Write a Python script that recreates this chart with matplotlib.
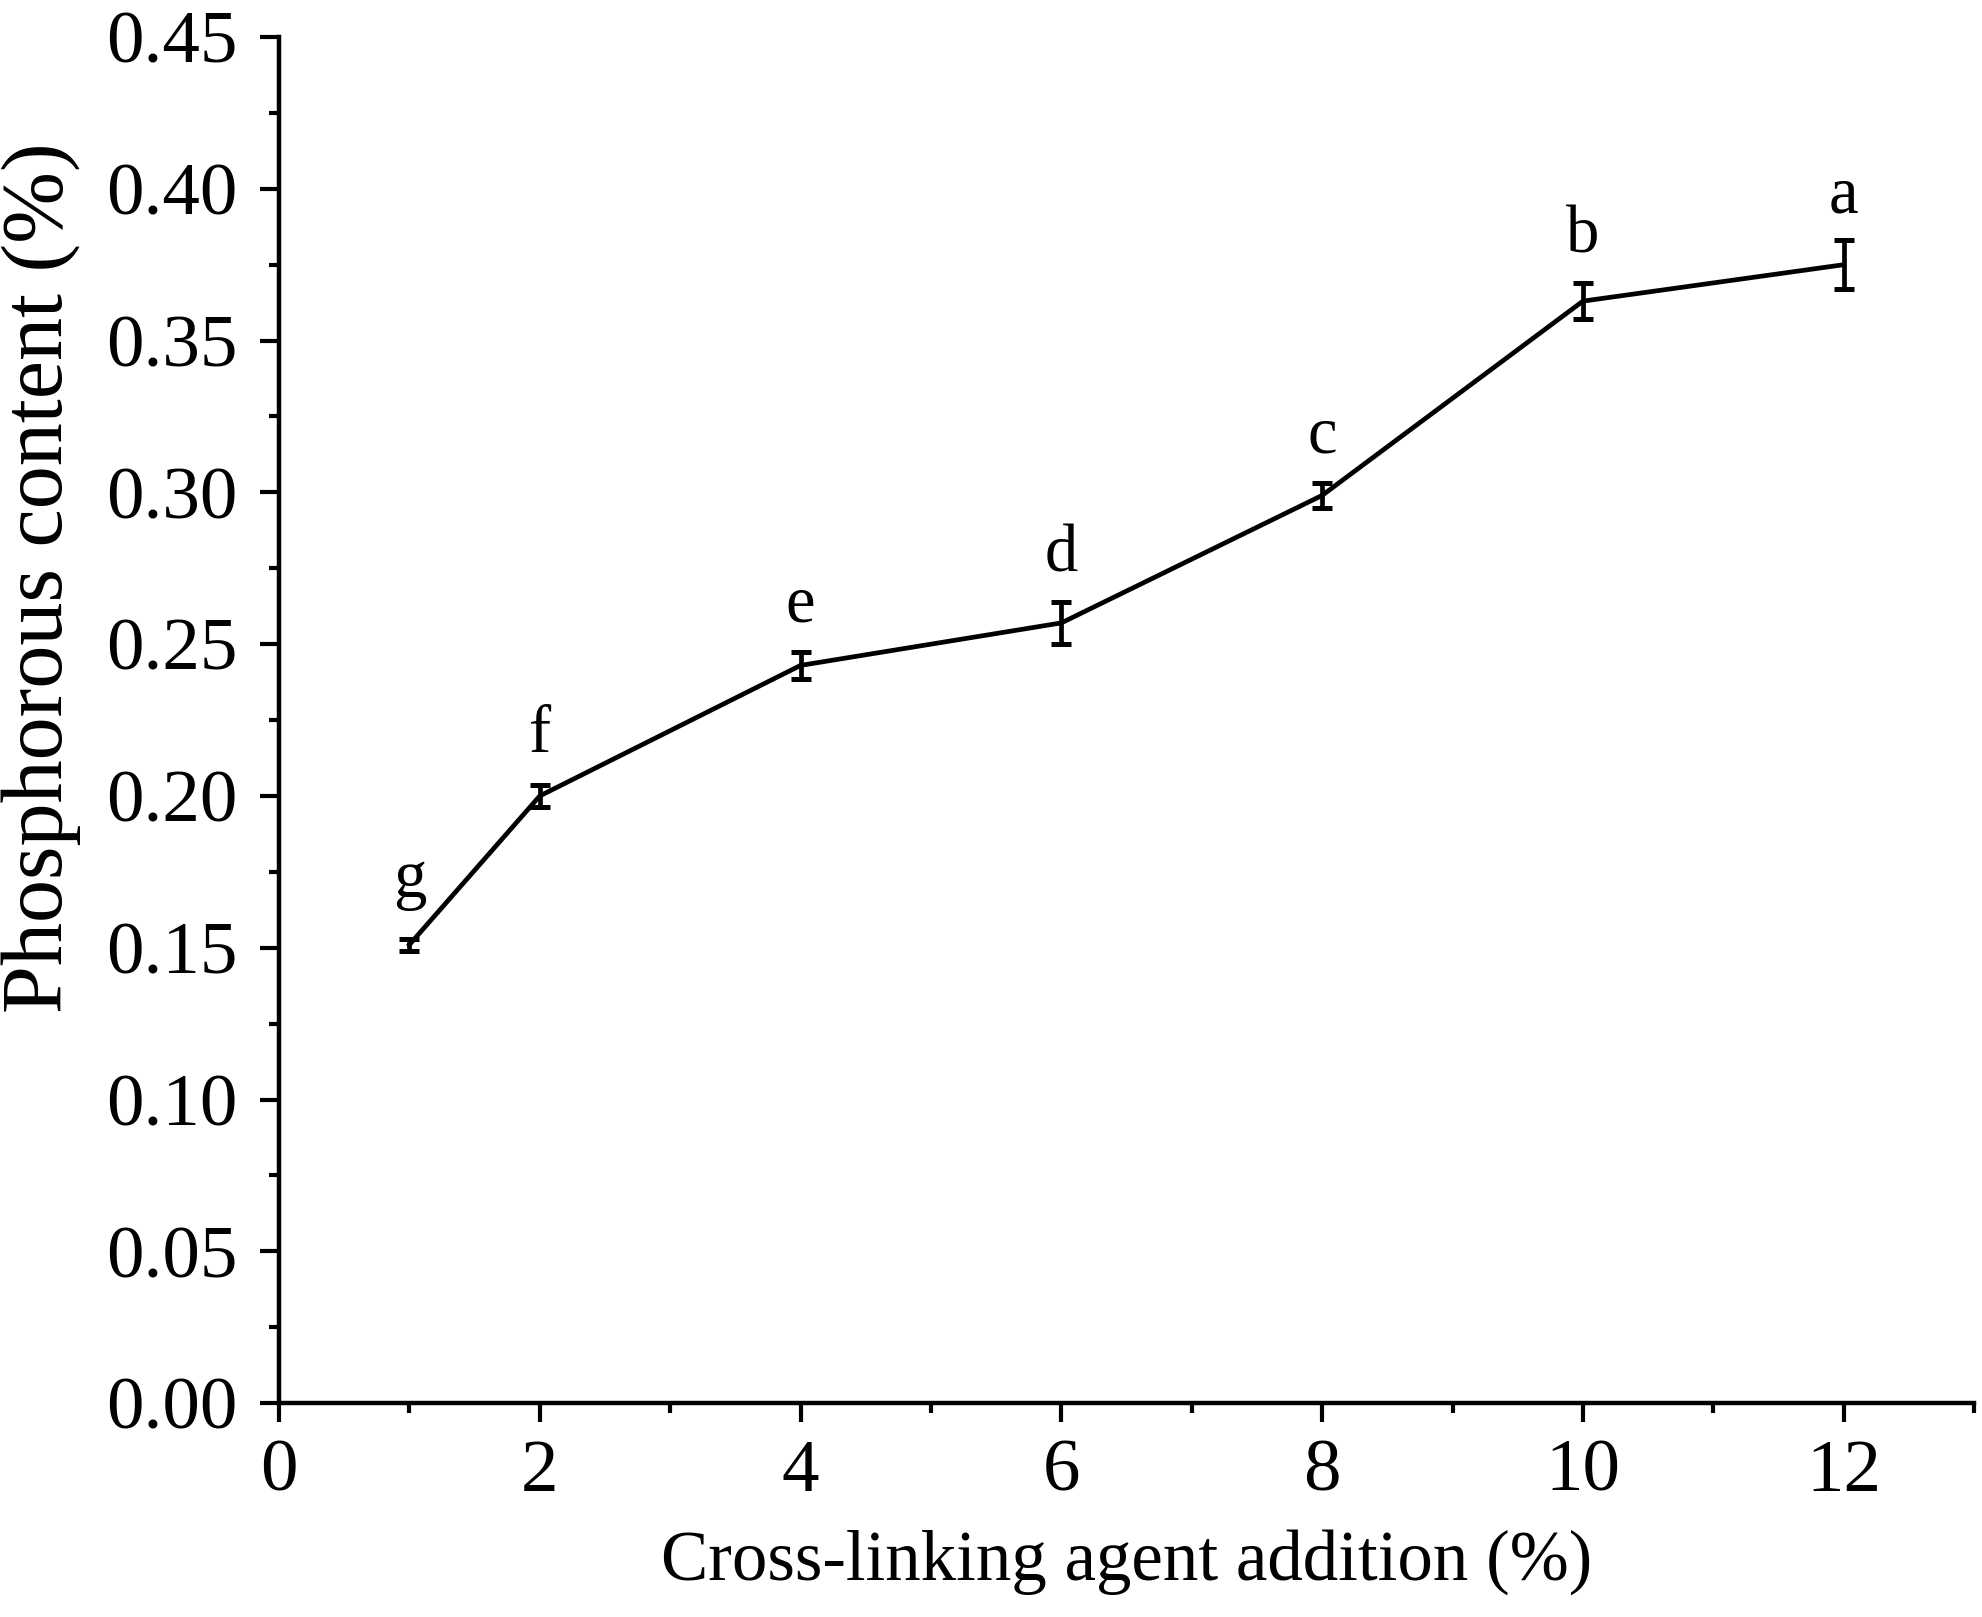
import matplotlib
matplotlib.use("Agg")
import matplotlib.pyplot as plt
from matplotlib.ticker import MultipleLocator

x_vals = [1, 2, 4, 6, 8, 10, 12]
y_vals = [0.151, 0.200, 0.243, 0.257, 0.299, 0.363, 0.375]
y_err = [0.002, 0.0035, 0.0045, 0.007, 0.004, 0.006, 0.008]
letters = ["g", "f", "e", "d", "c", "b", "a"]
letter_offsets = [30, 24, 22, 22, 22, 22, 20]

plt.rcParams['font.family'] = ['Liberation Serif', 'DejaVu Serif']

fig = plt.figure(figsize=(19.83, 16.17), dpi=100)
ax = fig.add_axes([0.1407, 0.1323, 0.8548, 0.8448])

ax.errorbar(x_vals, y_vals, yerr=y_err, color='black', lw=3.4,
            elinewidth=3.4, capsize=7.5, capthick=3.6)

for xv, yv, e, t, off in zip(x_vals, y_vals, y_err, letters, letter_offsets):
    ax.annotate(t, xy=(xv, yv + e), xytext=(0, off), textcoords='offset points',
                ha='center', va='baseline', fontsize=48)

ax.set_xlim(0, 13)
ax.set_ylim(0, 0.45)
ax.xaxis.set_major_locator(MultipleLocator(2))
ax.xaxis.set_minor_locator(MultipleLocator(1))
ax.yaxis.set_minor_locator(MultipleLocator(0.025))
ax.set_yticks([0, 0.05, 0.10, 0.15, 0.20, 0.25, 0.30, 0.35, 0.40, 0.45])
ax.set_yticklabels(["0.00", "0.05", "0.10", "0.15", "0.20", "0.25", "0.30",
                    "0.35", "0.40", "0.45"])

for s in ['top', 'right']:
    ax.spines[s].set_visible(False)
for s in ['left', 'bottom']:
    ax.spines[s].set_linewidth(3.2)

ax.tick_params(which='major', direction='out', length=14, width=3.0,
               labelsize=54)
ax.tick_params(axis='y', which='major', pad=16)
ax.tick_params(axis='x', which='major', pad=12)
ax.tick_params(which='minor', direction='out', length=7, width=3.0)

ax.set_xlabel("Cross-linking agent addition (%)", fontsize=51, labelpad=16)
ax.set_ylabel("Phosphorous content (%)", fontsize=62)
ax.yaxis.set_label_coords(-0.117, 0.604)

fig.savefig("out.png", dpi=100)
